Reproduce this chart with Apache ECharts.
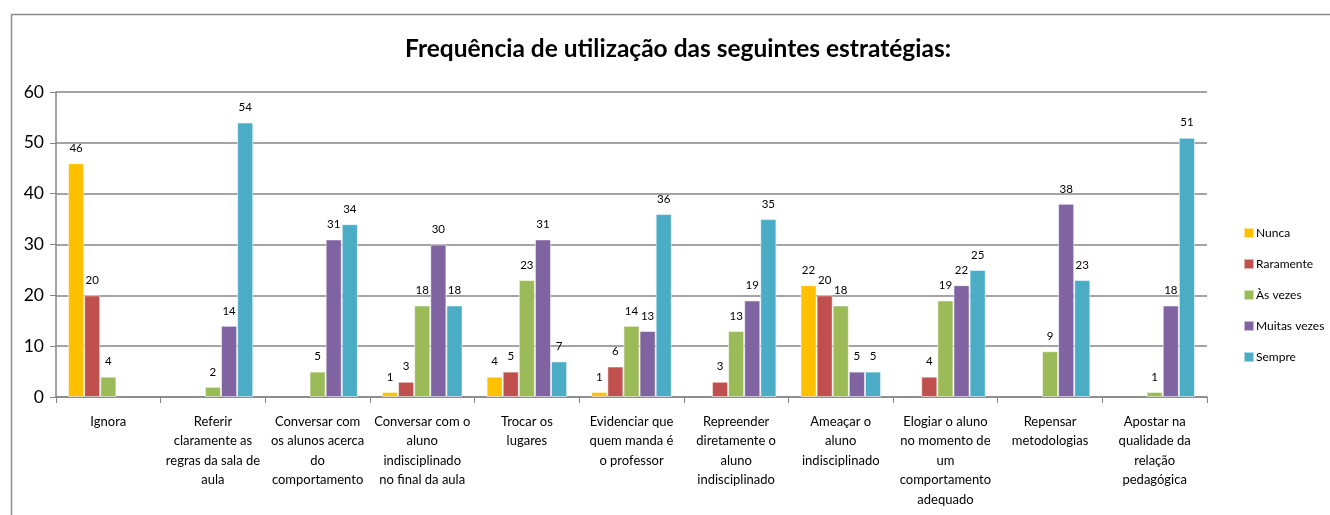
<!DOCTYPE html>
<html>
<head>
<meta charset="utf-8">
<script src="https://cdn.jsdelivr.net/npm/echarts@6/dist/echarts.min.js"></script>
<style>
html,body{margin:0;padding:0;background:#fff;}
#chart{width:1330px;height:515px;}
</style>
</head>
<body>
<div id="chart"></div>
<script>
const categories = [
  'Ignora',
  'Referir\nclaramente as\nregras da sala de\naula',
  'Conversar com\nos alunos acerca\ndo\ncomportamento',
  'Conversar com o\naluno\nindisciplinado\nno final da aula',
  'Trocar os\nlugares',
  'Evidenciar que\nquem manda é\no professor',
  'Repreender\ndiretamente o\naluno\nindisciplinado',
  'Ameaçar o\naluno\nindisciplinado',
  'Elogiar o aluno\nno momento de\num\ncomportamento\nadequado',
  'Repensar\nmetodologias',
  'Apostar na\nqualidade da\nrelação\npedagógica'
];
const seriesNames = ['Nunca', 'Raramente', 'Às vezes', 'Muitas vezes', 'Sempre'];
const nunca       = [46, null, null, 1, 4, 1, null, 22, null, null, null];
const raramente   = [20, null, null, 3, 5, 6, 3, 20, 4, null, null];
const asVezes     = [4, 2, 5, 18, 23, 14, 13, 18, 19, 9, 1];
const muitasVezes = [null, 14, 31, 30, 31, 13, 19, 5, 22, 38, 18];
const sempre      = [null, 54, 34, 18, 7, 36, 35, 5, 25, 23, 51];
const yTicks = [0, 10, 20, 30, 40, 50, 60];

const colors = ['#FFC000', '#C0504D', '#9BBB59', '#8064A2', '#4BACC6'];
const values = [nunca, raramente, asVezes, muitasVezes, sempre];
const font = 'Lato, "Open Sans", sans-serif';

const chart = echarts.init(document.getElementById('chart'), null, {renderer: 'canvas'});
chart.setOption({
  animation: false,
  textStyle: {fontFamily: font},
  title: {
    text: 'Frequência de utilização das seguintes estratégias:',
    left: 673, top: 32, textAlign: 'center',
    textStyle: {fontFamily: font, fontSize: 24.5, fontWeight: 'bold', color: '#000'}
  },
  graphic: [{
    type: 'rect', left: 9, top: 12, z: -1,
    shape: {width: 1340, height: 600},
    style: {fill: 'none', stroke: '#8c8c8c', lineWidth: 1.5}
  }],
  legend: {
    orient: 'vertical', left: 1238, top: 222, itemGap: 19,
    itemWidth: 10, itemHeight: 10, icon: 'rect',
    textStyle: {fontFamily: font, fontSize: 12, color: '#000', padding: [0,0,0,-3]},
    data: seriesNames
  },
  grid: {left: 56, right: 123, top: 92, bottom: 118, containLabel: false},
  xAxis: {
    type: 'category', data: categories,
    axisLine: {show: true, lineStyle: {color: '#868686', width: 1.5}},
    axisTick: {show: true, length: 6, lineStyle: {color: '#868686'}},
    axisLabel: {interval: 0, fontSize: 13, lineHeight: 19.5, color: '#000', margin: 15, fontFamily: font}
  },
  yAxis: {
    type: 'value', min: 0, max: 60, interval: 10,
    axisLine: {show: true, lineStyle: {color: '#868686', width: 1.5}},
    axisTick: {show: true, length: 6, lineStyle: {color: '#868686'}},
    splitLine: {show: true, lineStyle: {color: '#868686', width: 1.5}},
    axisLabel: {fontSize: 17.5, color: '#000', margin: 12, fontFamily: font,
      formatter: v => yTicks.includes(v) ? String(v) : ''}
  },
  series: seriesNames.map((n, i) => ({
    name: n, type: 'bar', data: values[i],
    barGap: '0%', barCategoryGap: '23%',
    itemStyle: {color: colors[i], borderColor: 'rgba(255,255,255,0.55)', borderWidth: 1},
    label: {show: true, position: 'top', distance: 9, fontSize: 11.5, color: '#000', fontFamily: font}
  }))
});
</script>
</body>
</html>
